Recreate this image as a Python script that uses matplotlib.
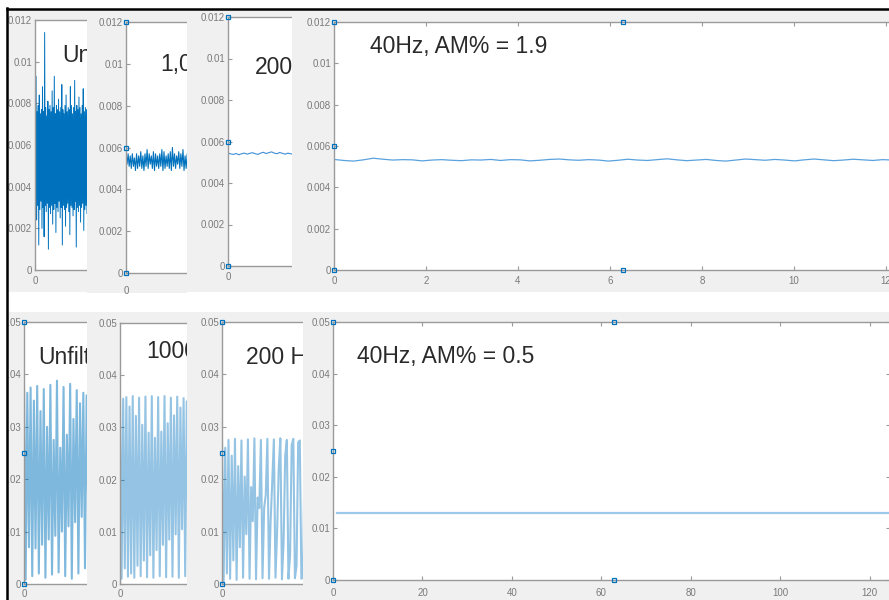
import numpy as np
import matplotlib
matplotlib.use("Agg")
import matplotlib.pyplot as plt
from matplotlib.lines import Line2D
from matplotlib.patches import Rectangle

plt.rcParams['font.family'] = ['Liberation Sans', 'DejaVu Sans']

W, H = 889, 600

# ---- data ----
# top row (peak power, 0..0.012)
unf_top_hi = [0.0078, 0.0093, 0.0076, 0.0079, 0.0084, 0.0075, 0.0077, 0.0088, 0.0076, 0.0114,
              0.0078, 0.0074, 0.0081, 0.0077, 0.0079, 0.0076, 0.0086, 0.0078, 0.0093, 0.0075,
              0.0079, 0.0077, 0.0082, 0.0076, 0.0078, 0.0089, 0.0077, 0.0075, 0.0079, 0.0084,
              0.0076, 0.0078, 0.0077, 0.0088, 0.0079, 0.0075, 0.0078, 0.0091, 0.0076, 0.0079,
              0.0077, 0.0083, 0.0078, 0.0075, 0.0079, 0.0087, 0.0076, 0.0078, 0.0077, 0.0080]
unf_top_lo = [0.0030, 0.0024, 0.0031, 0.0012, 0.0029, 0.0033, 0.0020, 0.0030, 0.0016, 0.0031,
              0.0028, 0.0032, 0.0010, 0.0030, 0.0027, 0.0031, 0.0022, 0.0029, 0.0032, 0.0018,
              0.0030, 0.0028, 0.0033, 0.0025, 0.0030, 0.0012, 0.0031, 0.0029, 0.0021, 0.0030,
              0.0032, 0.0028, 0.0017, 0.0031, 0.0030, 0.0026, 0.0029, 0.0033, 0.0011, 0.0030,
              0.0028, 0.0031, 0.0023, 0.0030, 0.0032, 0.0019, 0.0029, 0.0031, 0.0027, 0.0030]
k1_top_hi = [0.0058, 0.0057, 0.0056, 0.0057, 0.0055, 0.0057, 0.0056, 0.0058, 0.0056, 0.0057,
             0.0059, 0.0057, 0.0056, 0.0058, 0.0057, 0.0056, 0.0057, 0.0059, 0.0058, 0.0056,
             0.0057, 0.0058, 0.0060, 0.0057, 0.0056, 0.0058, 0.0057, 0.0059, 0.0056, 0.0057]
k1_top_lo = [0.0052, 0.0051, 0.0050, 0.0051, 0.0049, 0.0050, 0.0051, 0.0050, 0.0049, 0.0051,
             0.0050, 0.0052, 0.0050, 0.0049, 0.0051, 0.0050, 0.0051, 0.0049, 0.0050, 0.0051,
             0.0050, 0.0049, 0.0051, 0.0050, 0.0052, 0.0050, 0.0051, 0.0049, 0.0050, 0.0051]
h200_top = [0.00545, 0.00540, 0.00538, 0.00542, 0.00536, 0.00541, 0.00544, 0.00539, 0.00543,
            0.00546, 0.00541, 0.00538, 0.00544, 0.00548, 0.00542, 0.00546, 0.00550, 0.00544,
            0.00541, 0.00547, 0.00543, 0.00539, 0.00544, 0.00541, 0.00538]
h40_top = [0.00535, 0.00530, 0.00527, 0.00533, 0.00541, 0.00536, 0.00532, 0.00534, 0.00533,
           0.00528, 0.00532, 0.00534, 0.00531, 0.00529, 0.00533, 0.00532, 0.00535, 0.00530,
           0.00534, 0.00533, 0.00528, 0.00531, 0.00535, 0.00537, 0.00533, 0.00531, 0.00534,
           0.00532, 0.00527, 0.00531, 0.00536, 0.00532, 0.00530, 0.00534, 0.00538, 0.00533,
           0.00529, 0.00532, 0.00535, 0.00530, 0.00527, 0.00532, 0.00537, 0.00534, 0.00531,
           0.00535, 0.00532, 0.00528, 0.00533, 0.00537, 0.00533, 0.00529, 0.00532, 0.00536,
           0.00533, 0.00530, 0.00534, 0.00532, 0.00529, 0.00533]

# bottom row (0..0.05): stroke tops, bottoms and the two crossing envelopes
unf_bot_peak = [0.0385, 0.0375, 0.0378, 0.0372, 0.0380, 0.0388, 0.0376, 0.0382, 0.0370, 0.0365]
unf_bot_trough = [0.0008, 0.0015, 0.0020, 0.0012, 0.0018, 0.0022, 0.0015, 0.0010, 0.0020, 0.0030]
unf_bot_enva = [0.0365, 0.0350, 0.0330, 0.0300, 0.0275, 0.0260, 0.0285, 0.0315, 0.0345, 0.0360]
unf_bot_envb = [0.0070, 0.0068, 0.0075, 0.0085, 0.0092, 0.0100, 0.0110, 0.0118, 0.0128, 0.0135]

k1_bot_peak = [0.0355, 0.0358, 0.0360, 0.0357, 0.0359, 0.0360, 0.0358, 0.0360, 0.0357, 0.0359, 0.0356]
k1_bot_trough = [0.0010, 0.0014, 0.0012, 0.0015, 0.0013, 0.0012, 0.0015, 0.0013, 0.0014, 0.0012, 0.0015]
k1_bot_enva = [0.0355, 0.0340, 0.0322, 0.0305, 0.0290, 0.0280, 0.0292, 0.0308, 0.0323, 0.0338, 0.0350]
k1_bot_envb = [0.0030, 0.0020, 0.0035, 0.0045, 0.0055, 0.0065, 0.0075, 0.0085, 0.0095, 0.0105, 0.0112]

h200_bot_peak = [0.0272, 0.0275, 0.0277, 0.0274, 0.0276, 0.0278, 0.0275, 0.0277, 0.0276,
                 0.0278, 0.0275, 0.0277, 0.0274]
h200_bot_trough = [0.0005, 0.0010, 0.0008, 0.0012, 0.0010, 0.0009, 0.0011, 0.0010, 0.0012,
                   0.0009, 0.0010, 0.0011, 0.0010]
h200_bot_enva = [0.0260, 0.0245, 0.0225, 0.0205, 0.0185, 0.0165, 0.0145, 0.0120, 0.0100,
                 0.0080, 0.0055, 0.0035, 0.0015]
h200_bot_envb = [0.0020, 0.0045, 0.0070, 0.0095, 0.0120, 0.0145, 0.0170, 0.0195, 0.0220,
                 0.0245, 0.0265, 0.0270, 0.0272]

h40_bot_x = [1.0, 30.0, 60.0, 90.0, 125.7]
h40_bot = [0.0130, 0.0130, 0.0130, 0.0130, 0.0130]

top_ticks = [0, 0.002, 0.004, 0.006, 0.008, 0.01, 0.012]
top_ticklabels = ['0', '0.002', '0.004', '0.006', '0.008', '0.01', '0.012']
bot_ticks = [0, 0.01, 0.02, 0.03, 0.04, 0.05]
bot_ticklabels = ['0', '0.01', '0.02', '0.03', '0.04', '0.05']

BLUE = '#0072BD'
GREY_BG = '#f0f0f0'
SPINE = '#9a9a9a'
LABEL = '#7a7a7a'

fig = plt.figure(figsize=(W / 100, H / 100), dpi=100)
fig.patch.set_facecolor('white')


def rect(x0, x1, y0, y1):
    return [x0 / W, 1 - y1 / H, (x1 - x0) / W, (y1 - y0) / H]


def interleave(*cols):
    return [v for grp in zip(*cols) for v in grp]


def panel(bg, box, ylim, yticks, ylabels, title=None, title_xy=None, xpad=4):
    bgax = fig.add_axes(rect(*bg))
    bgax.set_facecolor(GREY_BG)
    bgax.set_xticks([])
    bgax.set_yticks([])
    for s in bgax.spines.values():
        s.set_visible(False)
    ax = fig.add_axes(rect(*box))
    ax.set_facecolor('white')
    for s in ax.spines.values():
        s.set_color(SPINE)
        s.set_linewidth(1.0)
    ax.set_ylim(ylim)
    ax.set_yticks(yticks)
    ax.set_yticklabels(ylabels)
    ax.tick_params(direction='in', length=3, width=0.8, color=SPINE,
                   labelsize=7, labelcolor=LABEL, pad=2)
    ax.tick_params(axis='x', pad=xpad)
    if title:
        ax.text(title_xy[0] / W, 1 - title_xy[1] / H, title, transform=fig.transFigure,
                fontsize=16.5, color='#2a2a2a', va='center', ha='left')
    return ax


def small_xlim(ax, n, box, clip):
    vis = clip - box[0]
    bw = box[1] - box[0]
    ax.set_xlim(0, (n - 1) * bw / vis * 0.98)
    ax.set_xticks([0])
    ax.set_xticklabels(['0'])


def corner_marks(ax, ys):
    ax.plot([0] * len(ys), ys, 's', mfc='none', mec=BLUE, ms=3.5, mew=0.9, clip_on=False, zorder=5)


# ---------- top row ----------
box = (35, 120, 20, 270)
ax = panel((8, 87, 9, 292), box, (0, 0.012), top_ticks, top_ticklabels, 'Un', (62, 55))
y = interleave(unf_top_hi, unf_top_lo)
ax.plot(range(len(y)), y, color=BLUE, lw=0.7)
small_xlim(ax, len(y), box, 87)

box = (126, 220, 22, 273)
ax = panel((87, 187, 9, 293), box, (0, 0.012), top_ticks, top_ticklabels, '1,0', (160, 65), xpad=9)
y = interleave(k1_top_hi, k1_top_lo)
ax.plot(range(len(y)), y, color=BLUE, lw=0.8)
small_xlim(ax, len(y), box, 187)
corner_marks(ax, [0.012, 0.006, 0])

box = (228, 330, 17, 266)
ax = panel((187, 292, 9, 292), box, (0, 0.012), top_ticks, top_ticklabels, '200', (255, 68))
ax.plot(range(len(h200_top)), h200_top, color='#3f8fd4', lw=0.8)
small_xlim(ax, len(h200_top), box, 292)
corner_marks(ax, [0.012, 0.006, 0])

box = (334, 912, 22, 270)
ax = panel((292, 889, 9, 292), box, (0, 0.012), top_ticks, top_ticklabels, '40Hz, AM% = 1.9', (370, 47))
xd = np.linspace(0, 4 * np.pi, len(h40_top))
ax.plot(xd, h40_top, color='#5aa2de', lw=0.9)
ax.set_xlim(0, 4 * np.pi)
ax.set_xticks([0, 2, 4, 6, 8, 10, 12])
ax.tick_params(axis='x', top=True)
corner_marks(ax, [0.012, 0.006, 0])
ax.plot([2 * np.pi, 2 * np.pi], [0.012, 0], 's', mfc='none', mec=BLUE, ms=3.5, mew=0.9,
        clip_on=False, zorder=5)

# ---------- bottom row ----------
box = (24, 120, 322, 584)
ax = panel((8, 87, 312, 600), box, (0, 0.05), bot_ticks, bot_ticklabels, 'Unfilt', (38, 357), xpad=3.5)
y = interleave(unf_bot_peak, unf_bot_trough, unf_bot_enva, unf_bot_envb)
ax.plot(range(len(y)), y, color=BLUE, lw=1.5, alpha=0.5)
small_xlim(ax, len(y), box, 87)
corner_marks(ax, [0.05, 0.025, 0])

box = (120, 220, 323, 584)
ax = panel((87, 187, 312, 600), box, (0, 0.05), bot_ticks, bot_ticklabels, '1000', (146, 352), xpad=3.5)
y = interleave(k1_bot_peak, k1_bot_trough, k1_bot_enva, k1_bot_envb)
ax.plot(range(len(y)), y, color=BLUE, lw=1.5, alpha=0.42)
small_xlim(ax, len(y), box, 187)

box = (222, 330, 322, 584)
ax = panel((187, 303, 312, 600), box, (0, 0.05), bot_ticks, bot_ticklabels, '200 H', (246, 358), xpad=3.5)
y = interleave(h200_bot_peak, h200_bot_trough, h200_bot_enva, h200_bot_envb)
ax.plot(range(len(y)), y, color=BLUE, lw=1.5, alpha=0.42)
small_xlim(ax, len(y), box, 303)
corner_marks(ax, [0.05, 0.025, 0])

box = (333, 890, 322, 580)
ax = panel((303, 889, 312, 600), box, (0, 0.05), bot_ticks, bot_ticklabels, '40Hz, AM% = 0.5', (357, 357),
           xpad=6)
ax.plot(h40_bot_x, h40_bot, color='#9cc8ec', lw=1.6)
ax.set_xlim(0, 124.5)
ax.set_xticks([0, 20, 40, 60, 80, 100, 120])
ax.tick_params(axis='x', top=True)
ax.tick_params(axis='y', right=True)
corner_marks(ax, [0.05, 0.025, 0])
ax.plot([20 * np.pi, 20 * np.pi], [0.05, 0], 's', mfc='none', mec=BLUE, ms=3.5, mew=0.9,
        clip_on=False, zorder=5)

# white margin and black frame of the screenshot
fig.add_artist(Rectangle((0, 0), 6.5 / W, 1, transform=fig.transFigure,
                         facecolor='white', edgecolor='none', zorder=5))
fig.add_artist(Line2D([7 / W, 7 / W], [0, 1 - 8 / H], transform=fig.transFigure,
                      color='black', lw=1.8, zorder=6))
fig.add_artist(Line2D([7 / W, 1], [1 - 9 / H, 1 - 9 / H], transform=fig.transFigure,
                      color='black', lw=1.8, zorder=6))

fig.savefig('out.png', dpi=100)
